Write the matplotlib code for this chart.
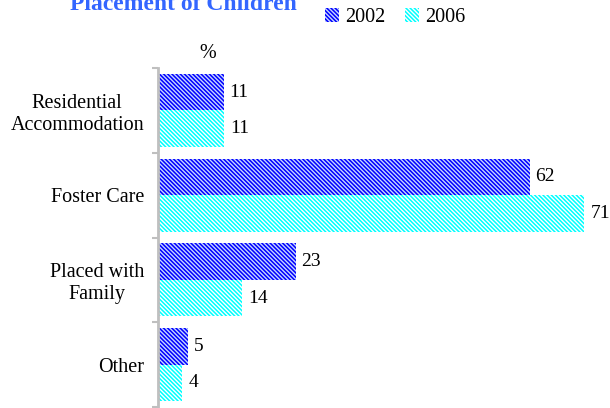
import numpy as np
import matplotlib
matplotlib.use('Agg')
import matplotlib.pyplot as plt
from matplotlib.patches import Patch

## data
categories = ['Residential\nAccommodation', 'Foster Care', 'Placed with\nFamily', 'Other']
y2002 = [11, 62, 23, 5]
y2006 = [11, 71, 14, 4]
series = ['2002', '2006']

# styles
plt.rcParams['font.family'] = ['Liberation Serif', 'DejaVu Serif']
plt.rcParams['hatch.linewidth'] = 1.0
c2002 = '#0000FF'
c2006 = '#00FFFF'
hatch = '\\' * 8
fs = 14.5

fig = plt.figure(figsize=(6.1, 4.08), dpi=100)
ax = fig.add_axes([158 / 610, 1 / 408, 452 / 610, 339 / 408])

pos = np.arange(len(categories))
h = 0.43
ax.barh(pos - h / 2, y2002, height=h, color=c2002, edgecolor='#C8D8FF', linewidth=0, hatch=hatch)
ax.barh(pos + h / 2, y2006, height=h, color=c2006, edgecolor='white', linewidth=0, hatch=hatch)

# value labels
for i in range(len(categories)):
    ax.text(y2002[i] + 0.9, pos[i] - h / 2, str(y2002[i]), va='center', ha='left', fontsize=14)
    ax.text(y2006[i] + 1.1, pos[i] + h / 2, str(y2006[i]), va='center', ha='left', fontsize=14)

ax.set_xlim(0, 75.3)
ax.set_ylim(3.5, -0.5)
ax.set_xticks([])
ax.set_yticks(pos)
ax.set_yticklabels(categories, fontsize=fs)
for t in ax.get_yticklabels():
    t.set_multialignment('center')
ax.set_yticks(np.arange(-0.5, 4, 1), minor=True)
ax.tick_params(axis='y', which='major', length=0, pad=10)
ax.tick_params(axis='y', which='minor', length=4, width=1.5, color='#BFBFBF', direction='out')
for s in ['top', 'right', 'bottom']:
    ax.spines[s].set_visible(False)
ax.spines['left'].set_color('#BFBFBF')
ax.spines['left'].set_linewidth(2)

# % label, title, legend
fig.text(208 / 610, 1 - 53 / 408, '%', ha='center', va='center', fontsize=fs)
fig.text(183 / 610, 1 - 10 / 408, 'Placement of Children', ha='center', va='baseline',
         fontsize=17, fontweight='bold', color='#3366FF')
handles = [Patch(facecolor=c2002, edgecolor='#C8D8FF', linewidth=0, hatch=hatch),
           Patch(facecolor=c2006, edgecolor='white', linewidth=0, hatch=hatch)]
fig.legend(handles, series, loc='upper center', bbox_to_anchor=(395 / 610, 1.025), ncol=2,
           frameon=False, fontsize=fs, handlelength=0.7, handleheight=0.7,
           handletextpad=0.3, columnspacing=1.0)

plt.savefig('out.png', dpi=100)
